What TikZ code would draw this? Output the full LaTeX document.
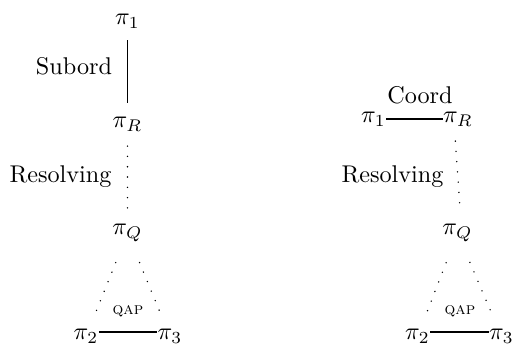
\documentclass[tikz,border=0pt]{standalone}
\begin{document}
\begin{tikzpicture}[x=0.4132pt,y=-0.4132pt,
  mnode/.style={inner sep=0pt,anchor=base},
  lbl/.style={inner sep=0pt,anchor=base},
  solidline/.style={line width=0.7pt},
  dotline/.style={line width=0.65pt,line cap=round,dash pattern=on 0pt off 4.25pt},
  qap/.style={inner sep=0pt,anchor=base,font=\scriptsize\scshape}]
\useasboundingbox (0,0) rectangle (515,347);
% left tree
\node[mnode] (p1) at (127.5,25) {$\pi_1$};
\node[mnode] (pR) at (127.5,128) {$\pi_R$};
\node[mnode] (pQ) at (127.5,235) {$\pi_Q$};
\node[mnode] (p2) at (86,340) {$\pi_2$};
\node[mnode] (p3) at (170,340) {$\pi_3$};
\node[lbl] (sub) at (74,75) {Subord};
\node[lbl] (res) at (60.5,183) {Resolving};
\node[qap] (qa) at (128,315) {qap};
\draw[solidline,shorten <=4.7pt,shorten >=5.8pt] (p1) -- (pR);
\draw[dotline,shorten <=5.8pt,shorten >=5.8pt] (pR) -- (pQ);
\draw[dotline,shorten <=9pt,shorten >=8pt] (pQ) -- (p2);
\draw[dotline,shorten <=9pt,shorten >=8pt] (pQ) -- (p3);
\draw[solidline] ([yshift=3.4pt]p2.base east) -- ([yshift=3.4pt]p3.base west);
% right tree
\node[mnode] (q1) at (373.5,123) {$\pi_1$};
\node[mnode] (qR) at (458,123) {$\pi_R$};
\node[mnode] (qQ) at (457.5,235) {$\pi_Q$};
\node[mnode] (q2) at (417.5,340) {$\pi_2$};
\node[mnode] (q3) at (501.5,340) {$\pi_3$};
\node[lbl] (crd) at (420,104) {Coord};
\node[lbl] (res2) at (392.5,183) {Resolving};
\node[qap] (qb) at (460,315) {qap};
\draw[solidline] ([yshift=1.6pt]q1.base east) -- ([yshift=1.6pt]qR.base west);
\draw[dotline,shorten <=5.8pt,shorten >=5.8pt] ([xshift=-1.5pt]qR.south) -- ([xshift=1.5pt]qQ.north);
\draw[dotline,shorten <=9pt,shorten >=8pt] (qQ) -- (q2);
\draw[dotline,shorten <=9pt,shorten >=8pt] (qQ) -- (q3);
\draw[solidline] ([yshift=3.4pt]q2.base east) -- ([yshift=3.4pt]q3.base west);
\end{tikzpicture}
\end{document}
